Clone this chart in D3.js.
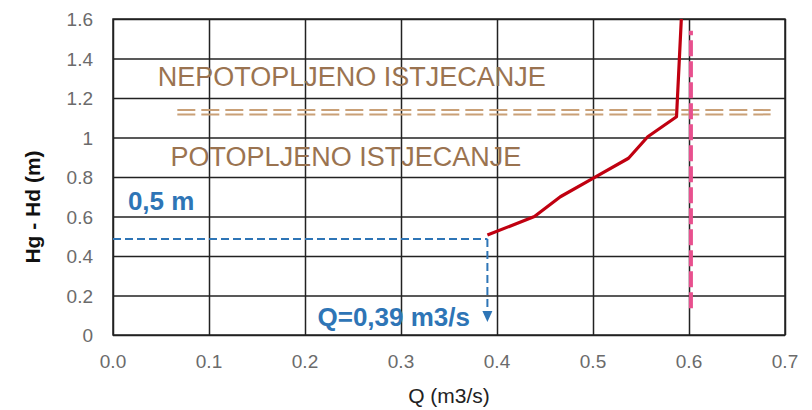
<!DOCTYPE html>
<html>
<head>
<meta charset="utf-8">
<script src="https://cdn.jsdelivr.net/npm/d3@7"></script>
<style>
  body { margin: 0; background: #fff; }
  text { font-family: "Liberation Sans", Arial, sans-serif; }
</style>
</head>
<body>
<svg id="chart" width="812" height="410"></svg>
<script>
// rating curve Q vs Hg - Hd
const curveQ = [0.39, 0.439, 0.466, 0.499, 0.537, 0.557, 0.587, 0.592];
const curveH = [0.506, 0.60, 0.70, 0.79, 0.895, 1.004, 1.105, 1.60];

// pink reference line
const limitQ = [0.602, 0.602];
const limitH = [0.135, 1.54];

// boundary between submerged / free outflow
const boundaryQ = [0.067, 0.685];
const boundaryH = [1.128, 1.128];

// reading at 0.5 m
const readH = 0.486;
const readQ = 0.39;
const arrowH = 0.066;

const xTicks = [0, 0.1, 0.2, 0.3, 0.4, 0.5, 0.6, 0.7];
const yTicks = [0, 0.2, 0.4, 0.6, 0.8, 1, 1.2, 1.4, 1.6];

const svg = d3.select("#chart");
const margin = { top: 19, right: 27, bottom: 75, left: 113 };
const width = 812 - margin.left - margin.right,
  height = 410 - margin.top - margin.bottom;

const x = d3.scaleLinear().domain([0, 0.7]).range([0, width]);
const y = d3.scaleLinear().domain([0, 1.6]).range([height, 0]);

const g = svg.append("g")
  .attr("transform", "translate(" + margin.left + "," + margin.top + ")");

// grid
g.append("g")
  .call(d3.axisBottom(x).tickValues(xTicks).tickSize(-height).tickFormat(""))
  .attr("transform", "translate(0," + height + ")")
  .call(s => s.selectAll("line").attr("stroke", "#222").attr("stroke-width", 1.5))
  .call(s => s.select(".domain").remove());
g.append("g")
  .call(d3.axisLeft(y).tickValues(yTicks).tickSize(-width).tickFormat(""))
  .call(s => s.selectAll("line").attr("stroke", "#222").attr("stroke-width", 1.5))
  .call(s => s.select(".domain").remove());
g.append("rect")
  .attr("width", width).attr("height", height)
  .attr("fill", "none").attr("stroke", "#222").attr("stroke-width", 1.5);

// tick labels
g.append("g").selectAll("text")
  .data(xTicks)
  .join("text")
  .attr("x", d => x(d))
  .attr("y", height + 33)
  .attr("text-anchor", "middle")
  .attr("font-size", 19)
  .attr("fill", "#6b6b6b")
  .text(d => d3.format(".1f")(d));
g.append("g").selectAll("text")
  .data(yTicks)
  .join("text")
  .attr("x", -20)
  .attr("y", d => y(d) + 7)
  .attr("text-anchor", "end")
  .attr("font-size", 19)
  .attr("fill", "#6b6b6b")
  .text(d => d3.format("")(d));

// axis titles
svg.append("text")
  .attr("x", margin.left + width / 2)
  .attr("y", 403)
  .attr("text-anchor", "middle")
  .attr("font-size", 21)
  .attr("fill", "#222")
  .text("Q (m3/s)");
svg.append("text")
  .attr("transform", "translate(40,207) rotate(-90)")
  .attr("text-anchor", "middle")
  .attr("font-size", 21)
  .attr("font-weight", "bold")
  .attr("fill", "#111")
  .text("Hg - Hd (m)");

// boundary double dashed line
[-0.011, 0.011].forEach(off => {
  g.append("path")
    .datum(d3.range(boundaryQ.length))
    .attr("fill", "none")
    .attr("stroke", "#c9a077")
    .attr("stroke-width", 2)
    .attr("stroke-dasharray", "18,6")
    .attr("d", d3.line().x(i => x(boundaryQ[i])).y(i => y(boundaryH[i] + off)));
});

// region labels
g.append("text")
  .attr("x", x(0.0466))
  .attr("y", y(1.2) - 12)
  .attr("font-size", 27)
  .attr("fill", "#9a7350")
  .text("NEPOTOPLJENO ISTJECANJE");
g.append("text")
  .attr("x", x(0.06))
  .attr("y", y(0.8) - 11)
  .attr("font-size", 27)
  .attr("fill", "#9a7350")
  .text("POTOPLJENO ISTJECANJE");

// pink limit line
g.append("path")
  .datum(d3.range(limitQ.length))
  .attr("fill", "none")
  .attr("stroke", "#e8508e")
  .attr("stroke-width", 4)
  .attr("stroke-dasharray", "16,5")
  .attr("d", d3.line().x(i => x(limitQ[i])).y(i => y(limitH[i])));

// red curve
g.append("path")
  .datum(d3.range(curveQ.length))
  .attr("fill", "none")
  .attr("stroke", "#c00010")
  .attr("stroke-width", 3.2)
  .attr("stroke-linejoin", "round")
  .attr("d", d3.line().x(i => x(curveQ[i])).y(i => y(curveH[i])));

// blue reading lines
const blue = "#2e75b6";
g.append("line")
  .attr("x1", x(0)).attr("x2", x(readQ))
  .attr("y1", y(readH)).attr("y2", y(readH))
  .attr("stroke", blue).attr("stroke-width", 2)
  .attr("stroke-dasharray", "8,4");
g.append("line")
  .attr("x1", x(readQ)).attr("x2", x(readQ))
  .attr("y1", y(readH)).attr("y2", y(arrowH) - 8)
  .attr("stroke", blue).attr("stroke-width", 2)
  .attr("stroke-dasharray", "8,4");
g.append("path")
  .attr("d", d3.line()([
    [x(readQ) - 5, y(arrowH) - 11],
    [x(readQ) + 5, y(arrowH) - 11],
    [x(readQ), y(arrowH)]
  ]) + "Z")
  .attr("fill", blue);

g.append("text")
  .attr("x", x(0.0155))
  .attr("y", y(0.6) - 7)
  .attr("font-size", 26)
  .attr("font-weight", "bold")
  .attr("fill", blue)
  .text("0,5 m");
g.append("text")
  .attr("x", x(0.213))
  .attr("y", y(0) - 9)
  .attr("font-size", 26)
  .attr("font-weight", "bold")
  .attr("fill", blue)
  .text("Q=0,39 m3/s");
</script>
</body>
</html>
